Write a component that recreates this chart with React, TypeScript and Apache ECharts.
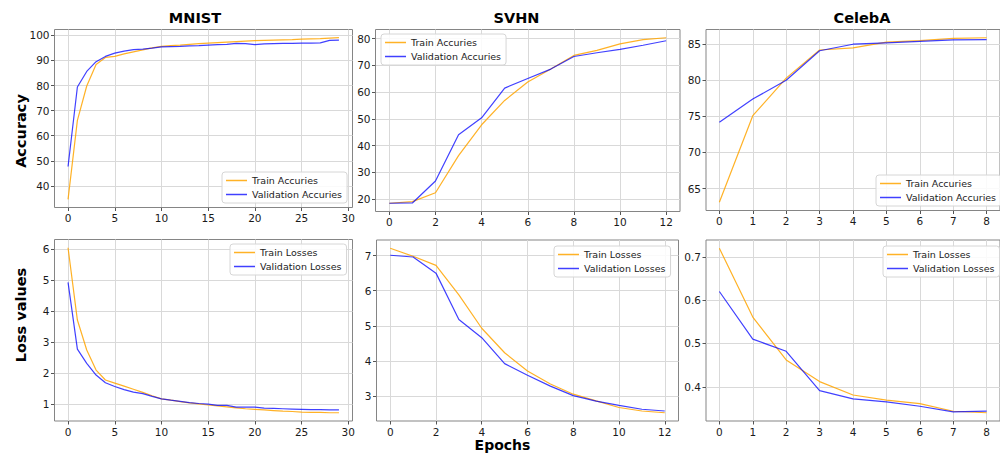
import React, { useEffect, useRef } from 'react';
import * as echarts from 'echarts';

// ---------- data ----------
const mnistTrainAcc = [34.6, 66.1, 79.8, 88.4, 91.2, 91.6, 92.6, 93.4, 94.2, 95.0, 95.6, 95.9, 96.1, 96.4, 96.7, 96.9, 97.1, 97.3, 97.5, 97.7, 97.9, 98.0, 98.1, 98.2, 98.3, 98.5, 98.6, 98.7, 98.9, 99.1];
const mnistValAcc = [47.7, 79.4, 85.6, 89.5, 91.6, 92.9, 93.7, 94.3, 94.5, 94.9, 95.4, 95.5, 95.6, 95.8, 95.9, 96.1, 96.3, 96.4, 96.8, 96.7, 96.3, 96.6, 96.7, 96.8, 96.8, 96.9, 96.9, 97.0, 98.0, 98.1];
const mnistTrainLoss = [6.05, 3.71, 2.74, 2.09, 1.77, 1.67, 1.57, 1.47, 1.37, 1.26, 1.16, 1.12, 1.07, 1.03, 1.0, 0.96, 0.93, 0.9, 0.87, 0.84, 0.82, 0.8, 0.78, 0.76, 0.75, 0.73, 0.72, 0.72, 0.71, 0.71];
const mnistValLoss = [4.93, 2.77, 2.31, 1.93, 1.68, 1.56, 1.46, 1.38, 1.33, 1.24, 1.16, 1.12, 1.08, 1.04, 1.01, 0.99, 0.95, 0.95, 0.89, 0.89, 0.89, 0.86, 0.85, 0.84, 0.83, 0.82, 0.81, 0.81, 0.8, 0.8];

const svhnTrainAcc = [18.5, 19.1, 22.4, 36.3, 47.8, 56.9, 63.8, 68.6, 73.7, 75.6, 78.0, 79.6, 80.3];
const svhnValAcc = [18.5, 18.6, 26.8, 44.1, 50.4, 61.5, 65.1, 68.6, 73.3, 74.7, 76.0, 77.5, 79.2];
const svhnTrainLoss = [7.21, 6.98, 6.72, 5.88, 4.93, 4.23, 3.71, 3.34, 3.05, 2.86, 2.67, 2.57, 2.52];
const svhnValLoss = [7.01, 6.96, 6.5, 5.18, 4.66, 3.92, 3.59, 3.28, 3.01, 2.85, 2.73, 2.62, 2.57];

const celebaTrainAcc = [63.1, 75.1, 80.3, 84.2, 84.5, 85.3, 85.5, 85.8, 85.9];
const celebaValAcc = [74.2, 77.4, 80.0, 84.1, 85.0, 85.2, 85.4, 85.6, 85.65];
const celebaTrainLoss = [0.72, 0.561, 0.462, 0.412, 0.381, 0.369, 0.361, 0.3435, 0.34];
const celebaValLoss = [0.62, 0.51, 0.482, 0.391, 0.372, 0.365, 0.355, 0.342, 0.344];

const mnistXTicks = [0, 5, 10, 15, 20, 25, 30];
const svhnXTicks = [0, 2, 4, 6, 8, 10, 12];
const celebaXTicks = [0, 1, 2, 3, 4, 5, 6, 7, 8];
const mnistAccTicks = [40, 50, 60, 70, 80, 90, 100];
const svhnAccTicks = [20, 30, 40, 50, 60, 70, 80];
const celebaAccTicks = [65, 70, 75, 80, 85];
const mnistLossTicks = [1, 2, 3, 4, 5, 6];
const svhnLossTicks = [3, 4, 5, 6, 7];
const celebaLossTicks = [0.4, 0.5, 0.6, 0.7];

const titles = ['MNIST', 'SVHN', 'CelebA'];
const accNames = ['Train Accuries', 'Validation Accuries'];
const lossNames = ['Train Losses', 'Validation Losses'];

const FONT = 'DejaVu Sans';
const TRAIN_COLOR = 'rgba(255,165,0,0.85)';
const VAL_COLOR = 'rgba(0,0,255,0.75)';

type Panel = {
  train: number[];
  val: number[];
  xTicks: number[];
  yTicks: number[];
  names: string[];
  grid: { left: number; top: number; width: number; height: number };
  legend: { left: number; top: number };
};

const panels: Panel[] = [
  { train: mnistTrainAcc, val: mnistValAcc, xTicks: mnistXTicks, yTicks: mnistAccTicks, names: accNames,
    grid: { left: 54.5, top: 29.5, width: 298, height: 178 }, legend: { left: 222, top: 172 } },
  { train: svhnTrainAcc, val: svhnValAcc, xTicks: svhnXTicks, yTicks: svhnAccTicks, names: accNames,
    grid: { left: 375.5, top: 29.5, width: 304.5, height: 182 }, legend: { left: 381, top: 34 } },
  { train: celebaTrainAcc, val: celebaValAcc, xTicks: celebaXTicks, yTicks: celebaAccTicks, names: accNames,
    grid: { left: 706, top: 29.5, width: 302, height: 181 }, legend: { left: 876, top: 175 } },
  { train: mnistTrainLoss, val: mnistValLoss, xTicks: mnistXTicks, yTicks: mnistLossTicks, names: lossNames,
    grid: { left: 54.5, top: 239.5, width: 298, height: 181.5 }, legend: { left: 230, top: 244 } },
  { train: svhnTrainLoss, val: svhnValLoss, xTicks: svhnXTicks, yTicks: svhnLossTicks, names: lossNames,
    grid: { left: 376.5, top: 240, width: 302, height: 181 }, legend: { left: 554, top: 246 } },
  { train: celebaTrainLoss, val: celebaValLoss, xTicks: celebaXTicks, yTicks: celebaLossTicks, names: lossNames,
    grid: { left: 706, top: 240, width: 301, height: 181 }, legend: { left: 883, top: 246 } },
];

function buildOption() {
  const grids: any[] = [];
  const xAxes: any[] = [];
  const yAxes: any[] = [];
  const series: any[] = [];
  const legends: any[] = [];

  panels.forEach((p, i) => {
    const n = p.train.length;
    const all = p.train.concat(p.val);
    const lo = Math.min(...all);
    const hi = Math.max(...all);
    const pad = (hi - lo) * 0.05;
    const xpad = (n - 1) * 0.05;

    grids.push({ ...p.grid, show: true, borderColor: '#858585', borderWidth: 1, backgroundColor: 'transparent', containLabel: false });

    xAxes.push({
      gridIndex: i, type: 'value', min: -xpad, max: n - 1 + xpad,
      axisLine: { show: false, onZero: false },
      axisTick: { show: true, length: 3.5, lineStyle: { color: '#555' }, customValues: p.xTicks },
      axisLabel: { customValues: p.xTicks, fontFamily: FONT, fontSize: 10.5, color: '#1a1a1a', margin: 5 },
      splitLine: { show: true, lineStyle: { color: '#d9d9d9', width: 1 } },
    });
    yAxes.push({
      gridIndex: i, type: 'value', min: lo - pad, max: hi + pad,
      axisLine: { show: false, onZero: false },
      axisTick: { show: true, length: 3.5, lineStyle: { color: '#555' }, customValues: p.yTicks },
      axisLabel: { customValues: p.yTicks, fontFamily: FONT, fontSize: 10.5, color: '#1a1a1a', margin: 5 },
      splitLine: { show: true, lineStyle: { color: '#d9d9d9', width: 1 } },
    });

    series.push({
      type: 'line', name: p.names[0], xAxisIndex: i, yAxisIndex: i, symbol: 'none', showSymbol: false,
      data: p.train.map((v, k) => [k, v]),
      itemStyle: { color: TRAIN_COLOR }, lineStyle: { color: TRAIN_COLOR, width: 1.2 }, z: 3,
    });
    series.push({
      type: 'line', name: p.names[1], xAxisIndex: i, yAxisIndex: i, symbol: 'none', showSymbol: false,
      data: p.val.map((v, k) => [k, v]),
      itemStyle: { color: VAL_COLOR }, lineStyle: { color: VAL_COLOR, width: 1.2 }, z: 4,
    });

    legends.push({
      left: p.legend.left, top: p.legend.top, orient: 'vertical', data: p.names,
      icon: 'rect', itemWidth: 21, itemHeight: 1.5, itemGap: 3, selectedMode: false,
      textStyle: { fontFamily: FONT, fontSize: 9.5, color: '#222', lineHeight: 11 },
      backgroundColor: 'rgba(255,255,255,0.85)', borderColor: '#d6d6d6', borderWidth: 1, borderRadius: 3,
      padding: [3, 5, 3, 4],
    });
  });

  const boldText = (text: string, x: number, y: number, size: number, rotation = 0) => ({
    type: 'text', x, y, rotation, z: 100,
    style: { text, fill: '#000', font: `bold ${size}px "${FONT}"`, align: 'center', verticalAlign: 'middle' },
  });

  const graphic = [
    boldText(titles[0], 195, 18, 14.5),
    boldText(titles[1], 516.5, 18, 14.5),
    boldText(titles[2], 862, 18, 14.5),
    boldText('Accuracy', 21, 131, 14.5, Math.PI / 2),
    boldText('Loss values', 21, 315, 14.5, Math.PI / 2),
    boldText('Epochs', 502.5, 444.5, 14),
  ];

  return {
    animation: false,
    backgroundColor: '#fff',
    textStyle: { fontFamily: FONT },
    grid: grids,
    xAxis: xAxes,
    yAxis: yAxes,
    series,
    legend: legends,
    graphic,
  };
}

export default function App() {
  const ref = useRef<HTMLDivElement>(null);
  useEffect(() => {
    if (!ref.current) return;
    const chart = echarts.init(ref.current, undefined, { renderer: 'svg' });
    chart.setOption(buildOption() as any);
    return () => chart.dispose();
  }, []);
  return (
    <div
      ref={ref}
      style={{ position: 'absolute', left: 0, top: 0, width: 1000, height: 453, overflow: 'hidden', background: '#fff' }}
    />
  );
}
